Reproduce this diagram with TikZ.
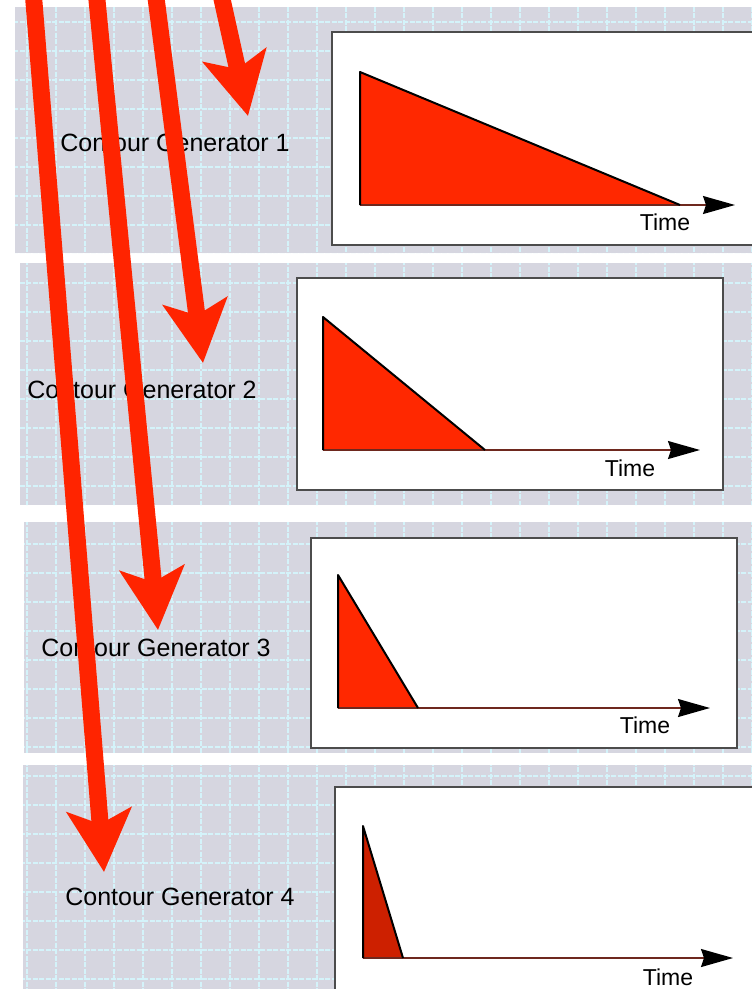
\documentclass[tikz,border=0pt]{standalone}
\usepackage{fontspec}
\setmainfont{Liberation Sans}
\usetikzlibrary{arrows.meta}
\definecolor{panelgrey}{RGB}{214,214,224}
\definecolor{gridcyan}{RGB}{212,243,250}
\definecolor{envred}{RGB}{255,40,0}
\definecolor{envdark}{RGB}{205,32,0}
\definecolor{axisbrown}{RGB}{110,40,30}
\definecolor{pullred}{RGB}{255,36,0}

\begin{document}
\begin{tikzpicture}[
  x=1pt, y=-1pt,
  panel/.style={fill=panelgrey},
  gridln/.style={draw=gridcyan, line width=2pt, dash pattern=on 5pt off 1.5pt},
  plot/.style={draw=black!70, line width=2.6pt, fill=white},
  env/.style={fill=envred},
  edge/.style={draw=black, line width=2pt, line join=round},
  axis/.style={draw=axisbrown, line width=1.5pt,
               -{Stealth[length=32pt, width=18pt, inset=3pt, black]}},
  pull/.style={draw=pullred, line width=17pt,
               -{Stealth[length=62pt, width=64pt, inset=14pt]}},
  lbl/.style={font=\fontsize{25}{25}\selectfont, inner sep=0pt},
  tlbl/.style={font=\fontsize{23}{23}\selectfont, inner sep=0pt},
]
\useasboundingbox (0,0) rectangle (752,989);
\clip (0,0) rectangle (752,989);

% ---- grey panels with grid ----
\fill[panel] (15,7) rectangle (760,253);
\fill[panel] (20,263) rectangle (760,505);
\fill[panel] (24,522) rectangle (760,753);
\fill[panel] (23,765) rectangle (760,1000);
\begin{scope}
  \clip (15,7) rectangle (760,253) (20,263) rectangle (760,505)
        (24,522) rectangle (760,753) (23,765) rectangle (760,1000);
  \foreach \gx in {27,56,...,760} \draw[gridln] (\gx,0) -- (\gx,1000);
  \foreach \gy in {22,51,...,1000} \draw[gridln] (0,\gy) -- (760,\gy);
\end{scope}

% ---- plot boxes ----
\draw[plot] (332,32) rectangle (770,245);
\draw[plot] (297,278) rectangle (723,490);
\draw[plot] (311,538) rectangle (737,748);
\draw[plot] (335,787) rectangle (770,1000);

% ---- envelopes ----
\fill[env] (360,72) -- (360,205) -- (680,205) -- cycle;
\draw[axis] (360,205) -- (735,205);
\draw[edge] (360,205) -- (360,72) -- (680,205);
\node[tlbl] (time1) at (665,222) {Time};

\fill[env] (323,317) -- (323,450) -- (485,450) -- cycle;
\draw[axis] (323,450) -- (700,450);
\draw[edge] (323,450) -- (323,317) -- (485,450);
\node[tlbl] (time2) at (630,468) {Time};

\fill[env] (338,575) -- (338,708) -- (418,708) -- cycle;
\draw[axis] (338,708) -- (710,708);
\draw[edge] (338,708) -- (338,575) -- (418,708);
\node[tlbl] (time3) at (645,725) {Time};

\fill[env, fill=envdark] (363,826) -- (363,958) -- (403,958) -- cycle;
\draw[axis] (363,958) -- (733,958);
\draw[edge] (363,958) -- (363,826) -- (403,958);
\node[tlbl] (time4) at (668,977) {Time};

% ---- generator labels ----
\node[lbl] (gen1) at (175,143) {Contour Generator 1};
\node[lbl] (gen2) at (142,390) {Contour Generator 2};
\node[lbl] (gen3) at (156,648) {Contour Generator 3};
\node[lbl] (gen4) at (180,897) {Contour Generator 4};

% ---- red arrows from above ----
\coordinate (src1) at (220,-10);
\coordinate (src2) at (155,-10);
\coordinate (src3) at (96,-10);
\coordinate (src4) at (33,-10);
\coordinate (tip1) at (248,116);
\coordinate (tip2) at (203,363);
\coordinate (tip3) at (158,630);
\coordinate (tip4) at (104,872);
\draw[pull] (src1) -- (tip1);
\draw[pull] (src2) -- (tip2);
\draw[pull] (src3) -- (tip3);
\draw[pull] (src4) -- (tip4);
\end{tikzpicture}
\end{document}
